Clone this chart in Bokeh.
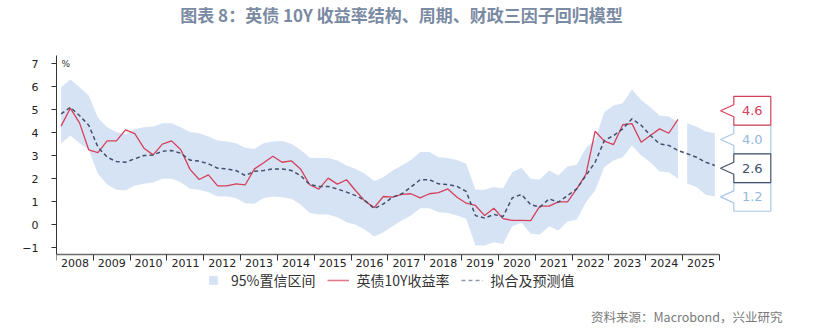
from bokeh.plotting import figure
from bokeh.models import Range1d, FixedTicker, Legend, LegendItem
from bokeh.core.properties import value
from bokeh.embed import file_html
from bokeh.resources import INLINE

# ---------------- data (quarterly, first point = 2008Q1) ----------------
years = list(range(2008, 2026))
year_labels = [str(y) for y in years]

gilt_10y = [4.29, 5.07, 4.43, 3.26, 3.14, 3.65, 3.65, 4.13, 3.96, 3.33, 3.04, 3.51,
            3.65, 3.26, 2.41, 1.97, 2.17, 1.69, 1.69, 1.78, 1.74, 2.43, 2.70, 2.98,
            2.72, 2.78, 2.43, 1.74, 1.55, 2.03, 1.77, 1.96, 1.48, 1.03, 0.75, 1.23,
            1.20, 1.32, 1.35, 1.17, 1.35, 1.40, 1.56, 1.20, 0.94, 0.84, 0.40, 0.72,
            0.27, 0.19, 0.19, 0.18, 0.81, 0.81, 1.00, 1.00, 1.56, 2.19, 4.07, 3.64,
            3.49, 4.35, 4.40, 3.59, 3.88, 4.17, 3.98, 4.58]

fit = [4.82, 5.11, 4.75, 4.33, 3.38, 2.94, 2.75, 2.72, 2.87, 3.01, 3.04, 3.20,
       3.23, 3.11, 2.81, 2.77, 2.65, 2.46, 2.43, 2.36, 2.14, 2.33, 2.36, 2.43,
       2.43, 2.36, 2.14, 1.75, 1.67, 1.67, 1.56, 1.42, 1.27, 1.06, 0.70, 0.91,
       1.20, 1.35, 1.64, 1.96, 1.96, 1.78, 1.75, 1.67, 1.45, 0.40, 0.29, 0.45,
       0.36, 1.17, 1.32, 0.88, 0.77, 1.13, 0.98, 1.27, 1.56, 2.14, 2.72, 3.66,
       3.88, 4.17, 4.61, 4.33, 3.88, 3.52, 3.45, 3.23, 3.09, 2.94, 2.72, 2.58]

upper = [5.98, 6.32, 5.98, 5.62, 4.65, 4.24, 4.03, 3.93, 4.17, 4.24, 4.27, 4.42,
         4.42, 4.24, 4.03, 3.98, 3.84, 3.67, 3.62, 3.55, 3.35, 3.30, 3.55, 3.62,
         3.64, 3.52, 3.26, 2.91, 2.90, 2.90, 2.80, 2.58, 2.43, 2.22, 1.90, 2.07,
         2.36, 2.58, 2.82, 3.16, 3.16, 2.94, 2.90, 2.82, 2.65, 1.52, 1.52, 1.64,
         1.59, 2.29, 2.48, 2.00, 1.97, 2.36, 2.14, 2.53, 2.61, 3.35, 3.70, 4.90,
         5.19, 5.29, 5.88, 5.43, 5.11, 4.75, 4.71, 4.46, 4.42, 4.27, 4.06, 3.98]

lower = [3.55, 3.88, 3.55, 3.26, 2.22, 1.75, 1.52, 1.49, 1.71, 1.78, 1.84, 2.00,
         2.00, 1.85, 1.57, 1.52, 1.42, 1.23, 1.23, 1.16, 0.94, 0.91, 1.16, 1.23,
         1.20, 1.13, 0.88, 0.51, 0.45, 0.45, 0.33, 0.11, 0.00, -0.22, -0.51, -0.32,
         -0.06, 0.19, 0.40, 0.72, 0.72, 0.55, 0.51, 0.40, 0.26, -0.90, -0.90, -0.76,
         -0.83, -0.06, 0.09, -0.39, -0.42, -0.06, -0.25, 0.14, 0.22, 0.98, 1.49, 2.51,
         2.80, 2.94, 3.45, 3.01, 2.72, 2.32, 2.29, 2.00, 1.78, 1.64, 1.31, 1.23]

y_ticks = [-1, 0, 1, 2, 3, 4, 5, 6, 7]

title_text = "图表 8：英债 10Y 收益率结构、周期、财政三因子回归模型"
source_text = "资料来源：Macrobond，兴业研究"
legend_labels = ["95%置信区间", "英债10Y收益率", "拟合及预测值"]

# ---------------- helpers (pixel <-> data mapping of the frame) ----------------
PX_YEAR = 36.83
X0_PX = 56.0
Y0_PX = 224.3
PX_UNIT = 23.0
AXIS_PX = 254.0


def px_x(px):
    return 2008 + (px - X0_PX) / PX_YEAR


def px_y(py):
    return (Y0_PX - py) / PX_UNIT


def qx(n):
    return [years[0] + (i + 0.5) / 4 for i in range(n)]


n_hist = len(gilt_10y)
x_all = qx(len(fit))

RED = "#d6405a"
DARK = "#434f6b"
BAND = "#d6e3f5"
LIGHT = "#a9c7e8"
LIGHT_TXT = "#94b7de"

p = figure(width=813, height=328,
           x_range=Range1d(px_x(56), px_x(813)),
           y_range=Range1d(px_y(328), px_y(0)),
           min_border_left=56, min_border_right=0, min_border_top=0,
           min_border_bottom=0,
           output_backend="svg", toolbar_location=None,
           outline_line_color=None, background_fill_color="white",
           border_fill_color="white")
p.grid.visible = False

# band: historical and forecast parts
p.varea(x=x_all[:n_hist], y1=lower[:n_hist], y2=upper[:n_hist], fill_color=BAND)
p.varea(x=x_all[n_hist:], y1=lower[n_hist:], y2=upper[n_hist:], fill_color=BAND)

p.line(x=x_all[:n_hist], y=gilt_10y, line_color=RED, line_width=1.3)
p.line(x=x_all, y=fit, line_color=DARK, line_width=1.5, line_dash="4 3")

# legend keys: renderers whose points lie outside the visible range
off_x = [px_x(-200), px_x(-190)]
off_y = [0, 0]
sw_band = p.scatter(x=off_x[:1], y=off_y[:1], marker="square", size=9,
                    fill_color=BAND, line_color=None)
sw_red = p.line(x=off_x, y=off_y, line_color="#e0788a", line_width=1.6)
sw_fit = p.line(x=off_x, y=off_y, line_color="#8e97aa", line_width=1.6,
                line_dash="4 3")

# ---------------- axes ----------------
xa = p.xaxis[0]
xa.fixed_location = px_y(AXIS_PX)
xa.ticker = FixedTicker(ticks=[y + 0.5 for y in years],
                        minor_ticks=years + [years[-1] + 1])
xa.major_label_overrides = {y + 0.5: lab for y, lab in zip(years, year_labels)}
xa.major_tick_out = 0
xa.major_tick_in = 0
xa.minor_tick_out = 6
xa.minor_tick_in = 0
xa.minor_tick_line_color = "#333333"
xa.axis_line_color = "#6b6b6b"
xa.axis_line_width = 1.6
xa.bounds = (years[0], years[-1] + 1)
xa.major_label_text_font = "DejaVu Sans"
xa.major_label_text_font_size = "11px"
xa.major_label_text_color = "#222222"
xa.major_label_standoff = -2

ya = p.yaxis[0]
ya.ticker = FixedTicker(ticks=y_ticks, minor_ticks=[])
ya.major_tick_out = 5
ya.major_tick_in = 0
ya.major_tick_line_color = "#333333"
ya.axis_line_color = "#333333"
ya.bounds = (px_y(AXIS_PX), px_y(55))
ya.major_label_text_font = "DejaVu Sans"
ya.major_label_text_font_size = "11px"
ya.major_label_text_color = "#222222"
ya.major_label_standoff = 13

# ---------------- texts ----------------
p.text(x=[px_x(401)], y=[px_y(14)], text=[title_text],
       text_font=value("Noto Sans CJK SC"), text_font_style="bold",
       text_font_size="17px", text_color="#7a8aa3",
       text_align="center", text_baseline="middle")

p.text(x=[px_x(61)], y=[px_y(63)], text=["%"],
       text_font=value("DejaVu Sans"), text_font_size="9px",
       text_color="#333333", text_align="left", text_baseline="middle")

p.text(x=[px_x(782)], y=[px_y(316)], text=[source_text],
       text_font=value("Noto Sans CJK SC"), text_font_size="12.5px",
       text_color="#7a7a7a", text_align="right", text_baseline="middle")

# ---------------- end-of-series callouts ----------------
callouts = [
    (f"{upper[-1]:.1f}", LIGHT, LIGHT_TXT, 139.0),
    (f"{lower[-1]:.1f}", LIGHT, LIGHT_TXT, 196.4),
    (f"{gilt_10y[-1]:.1f}", RED, RED, 110.3),
    (f"{fit[-1]:.1f}", DARK, DARK, 167.7),
]
L, R, TIP, HALF, NOTCH = 733.3, 770.3, 720.0, 14.35, 6.0
for txt, bcol, tcol, c in callouts:
    xs = [L, R, R, L, L, TIP, L]
    ys = [c - HALF, c - HALF, c + HALF, c + HALF, c + NOTCH, c, c - NOTCH]
    p.patch(x=[px_x(v) for v in xs], y=[px_y(v) for v in ys],
            fill_color="white", line_color=bcol, line_width=1.2)
    p.text(x=[px_x((L + R) / 2)], y=[px_y(c)], text=[txt],
           text_font=value("DejaVu Sans"), text_font_size="13px",
           text_color=tcol, text_align="center", text_baseline="middle")

# ---------------- legend (inside the tall frame, below the axis) ----------------
legend = Legend(items=[
    LegendItem(label=legend_labels[0], renderers=[sw_band]),
    LegendItem(label=legend_labels[1], renderers=[sw_red]),
    LegendItem(label=legend_labels[2], renderers=[sw_fit]),
], orientation="horizontal", location=(146, 37),
    label_text_font="Noto Sans CJK SC", label_text_font_size="14px",
    label_text_color="#333333", glyph_width=22, glyph_height=22,
    label_standoff=7, spacing=12, padding=0, margin=0,
    border_line_color=None, background_fill_alpha=0)
p.add_layout(legend, "center")

open("out.html", "w").write(file_html(p, INLINE))
